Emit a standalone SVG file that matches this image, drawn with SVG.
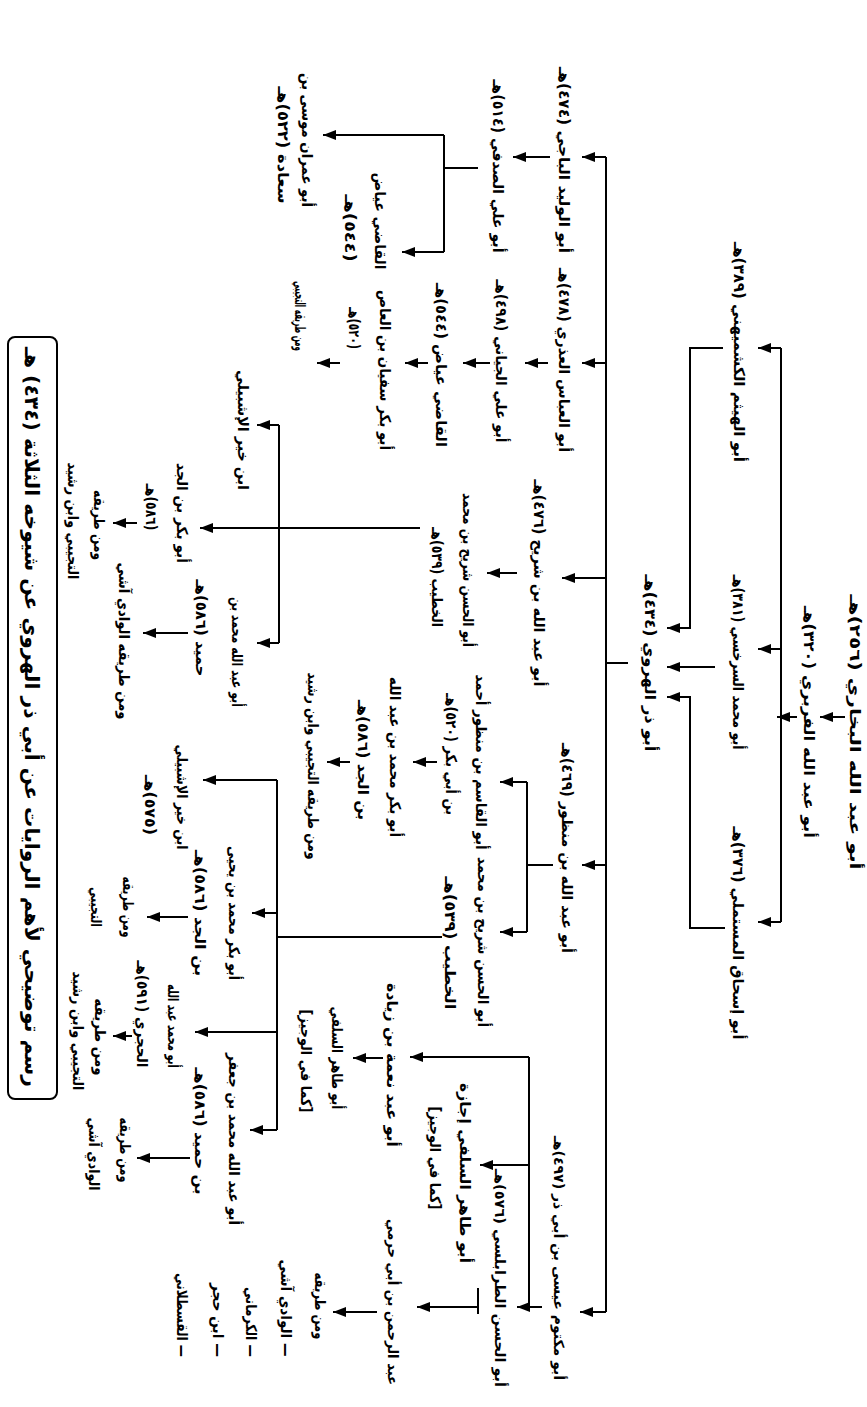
<svg xmlns="http://www.w3.org/2000/svg" width="867" height="1407" viewBox="0 0 867 1407">
<style>
.t{font-family:"DejaVu Sans",sans-serif;font-weight:bold;font-size:15px;fill:#000;direction:rtl;text-anchor:middle;dominant-baseline:central}
.tt{font-size:20px}
.s{font-size:14px}
.c line,.c polyline{stroke:#000;stroke-width:2;fill:none}
.a{marker-end:url(#ah)}
</style>
<defs>
<marker id="ah" markerWidth="13" markerHeight="10" refX="13" refY="5" orient="auto" markerUnits="userSpaceOnUse"><path d="M0,0 L13,5 L0,10 z" fill="#000"/></marker>
</defs>
<rect width="867" height="1407" fill="#fff"/>
<g id="title">
<rect x="8" y="337" width="49" height="762" rx="7" fill="none" stroke="#000" stroke-width="2"/>
<text class="t tt" transform="translate(32 717) rotate(90)" textLength="740" lengthAdjust="spacingAndGlyphs">رسم توضيحي لأهم الروايات عن أبي ذر الهروي عن شيوخه الثلاثة (٤٣٤) هـ</text>
</g>
<g class="c" id="connectors">
<line class="a" x1="845" y1="717" x2="820" y2="717"/>
<line class="a" x1="797" y1="717" x2="777" y2="717"/>
<line x1="781" y1="348" x2="781" y2="922"/>
<line class="a" x1="781" y1="348" x2="758" y2="348"/>
<line class="a" x1="781" y1="649" x2="758" y2="649"/>
<line class="a" x1="781" y1="922" x2="758" y2="922"/>
<polyline class="a" points="723,348 690,348 690,628 667,628"/>
<line class="a" x1="715" y1="667" x2="667" y2="667"/>
<polyline class="a" points="725,928 690,928 690,697 667,697"/>
<line x1="628" y1="663" x2="606" y2="663"/>
<line x1="606" y1="157" x2="606" y2="1312"/>
<line class="a" x1="606" y1="157" x2="582" y2="157"/>
<line class="a" x1="606" y1="363" x2="582" y2="363"/>
<line class="a" x1="606" y1="578" x2="562" y2="578"/>
<line class="a" x1="606" y1="865" x2="582" y2="865"/>
<line class="a" x1="606" y1="1312" x2="580" y2="1312"/>
<line class="a" x1="550" y1="157" x2="513" y2="157"/>
<line x1="478" y1="168" x2="444" y2="168"/>
<line x1="444" y1="135" x2="444" y2="252"/>
<line class="a" x1="444" y1="135" x2="323" y2="135"/>
<line class="a" x1="444" y1="252" x2="402" y2="252"/>
<line class="a" x1="548" y1="363" x2="525" y2="363"/>
<line class="a" x1="490" y1="363" x2="463" y2="363"/>
<line class="a" x1="428" y1="363" x2="405" y2="363"/>
<line class="a" x1="340" y1="363" x2="317" y2="363"/>
<line class="a" x1="517" y1="573" x2="487" y2="573"/>
<line class="a" x1="420" y1="528" x2="200" y2="528"/>
<line x1="279" y1="425" x2="279" y2="643"/>
<line class="a" x1="279" y1="425" x2="257" y2="425"/>
<line class="a" x1="279" y1="643" x2="257" y2="643"/>
<line class="a" x1="137" y1="523" x2="113" y2="523"/>
<line class="a" x1="188" y1="633" x2="143" y2="633"/>
<line x1="553" y1="865" x2="527" y2="865"/>
<line x1="527" y1="782" x2="527" y2="932"/>
<line class="a" x1="527" y1="782" x2="500" y2="782"/>
<line class="a" x1="527" y1="932" x2="500" y2="932"/>
<line class="a" x1="437" y1="762" x2="413" y2="762"/>
<line class="a" x1="350" y1="762" x2="327" y2="762"/>
<line x1="442" y1="937" x2="277" y2="937"/>
<line x1="277" y1="780" x2="277" y2="1130"/>
<line class="a" x1="277" y1="780" x2="203" y2="780"/>
<line class="a" x1="277" y1="913" x2="252" y2="913"/>
<line class="a" x1="277" y1="1032" x2="195" y2="1032"/>
<line class="a" x1="277" y1="1130" x2="250" y2="1130"/>
<line class="a" x1="188" y1="917" x2="147" y2="917"/>
<line class="a" x1="132" y1="1036" x2="113" y2="1036"/>
<line class="a" x1="190" y1="1158" x2="137" y2="1158"/>
<line class="a" x1="542" y1="1307" x2="517" y2="1307"/>
<line x1="529" y1="1057" x2="529" y2="1307"/>
<line class="a" x1="529" y1="1057" x2="410" y2="1057"/>
<line class="a" x1="529" y1="1165" x2="480" y2="1165"/>
<line class="a" x1="383" y1="1058" x2="353" y2="1058"/>
<line x1="478" y1="1288" x2="478" y2="1314"/>
<line class="a" x1="478" y1="1307" x2="417" y2="1307"/>
<line class="a" x1="377" y1="1312" x2="333" y2="1312"/>
</g>
<g id="bukhari"><text class="t" transform="translate(855 732) rotate(90)" textLength="275" lengthAdjust="spacingAndGlyphs">أبو عبد الله البخاري (٢٥٦)هـ</text></g>
<g id="farabri"><text class="t" transform="translate(809 722) rotate(90)" textLength="232" lengthAdjust="spacingAndGlyphs">أبو عبد الله الفربري (٣٢٠)هـ</text></g>
<g id="kushmihani"><text class="t" transform="translate(739 352) rotate(90)" textLength="220" lengthAdjust="spacingAndGlyphs">أبو الهيثم الكشميهني (٣٨٩)هـ</text></g>
<g id="sarakhsi"><text class="t" transform="translate(738 662) rotate(90)" textLength="175" lengthAdjust="spacingAndGlyphs">أبو محمد السرخسي (٣٨١)هـ</text></g>
<g id="mustamli"><text class="t" transform="translate(738 933) rotate(90)" textLength="213" lengthAdjust="spacingAndGlyphs">أبو إسحاق المستملي (٣٧٦)هـ</text></g>
<g id="abudharr"><text class="t" transform="translate(650 663) rotate(90)" textLength="177" lengthAdjust="spacingAndGlyphs">أبو ذر الهروي (٤٣٤)هـ</text></g>
<g id="baji"><text class="t" transform="translate(564 160) rotate(90)" textLength="186" lengthAdjust="spacingAndGlyphs">أبو الوليد الباجي (٤٧٤)هـ</text></g>
<g id="udhri"><text class="t" transform="translate(564 360) rotate(90)" textLength="184" lengthAdjust="spacingAndGlyphs">أبو العباس العذري (٤٧٨)هـ</text></g>
<g id="ibnshurayh"><text class="t" transform="translate(539 583) rotate(90)" textLength="207" lengthAdjust="spacingAndGlyphs">أبو عبد الله بن شريح (٤٧٦)هـ</text></g>
<g id="ibnmanzur"><text class="t" transform="translate(567 848) rotate(90)" textLength="210" lengthAdjust="spacingAndGlyphs">أبو عبد الله بن منظور (٤٦٩)هـ</text></g>
<g id="abumaktum"><text class="t s" transform="translate(559 1258) rotate(90)" textLength="244" lengthAdjust="spacingAndGlyphs">أبو مكتوم عيسى بن أبي ذر (٤٩٧)هـ</text></g>
<g id="sadafi"><text class="t" transform="translate(498 166) rotate(90)" textLength="173" lengthAdjust="spacingAndGlyphs">أبو علي الصدفي (٥١٤)هـ</text></g>
<g id="ibnsaada">
<text class="t" transform="translate(307 140) rotate(90)" textLength="134" lengthAdjust="spacingAndGlyphs">أبو عمران موسى بن</text>
<text class="t" transform="translate(283 145) rotate(90)" textLength="117" lengthAdjust="spacingAndGlyphs">سعادة (٥٢٢)هـ</text>
</g>
<g id="iyad1">
<text class="t" transform="translate(380 221) rotate(90)" textLength="97" lengthAdjust="spacingAndGlyphs">القاضي عياض</text>
<text class="t" transform="translate(350 228) rotate(90)" textLength="67" lengthAdjust="spacingAndGlyphs">(٥٤٤)هـ</text>
</g>
<g id="jayyani"><text class="t" transform="translate(501 361) rotate(90)" textLength="163" lengthAdjust="spacingAndGlyphs">أبو علي الجياني (٤٩٨)هـ</text></g>
<g id="iyad2"><text class="t" transform="translate(441 365) rotate(90)" textLength="164" lengthAdjust="spacingAndGlyphs">القاضي عياض (٥٤٤)هـ</text></g>
<g id="sufyan">
<text class="t" transform="translate(385 370) rotate(90)" textLength="160" lengthAdjust="spacingAndGlyphs">أبو بكر سفيان بن العاص</text>
<text class="t" transform="translate(354 328) rotate(90)" textLength="42" lengthAdjust="spacingAndGlyphs">(٥٢٠)هـ</text>
</g>
<g id="tujibi1"><text class="t" transform="translate(300 316) rotate(90)" textLength="70" lengthAdjust="spacingAndGlyphs">ومن طريقه التجيبي</text></g>
<g id="khatib1">
<text class="t" transform="translate(468 570) rotate(90)" textLength="154" lengthAdjust="spacingAndGlyphs">أبو الحسن شريح بن محمد</text>
<text class="t" transform="translate(437 577) rotate(90)" textLength="100" lengthAdjust="spacingAndGlyphs">الخطيب (٥٣٩)هـ</text>
</g>
<g id="ibnkhayr1"><text class="t" transform="translate(243 430) rotate(90)" textLength="120" lengthAdjust="spacingAndGlyphs">ابن خير الإشبيلي</text></g>
<g id="ibnjadd1">
<text class="t" transform="translate(182 513) rotate(90)" textLength="100" lengthAdjust="spacingAndGlyphs">أبو بكر بن الجد</text>
<text class="t" transform="translate(151 507) rotate(90)" textLength="47" lengthAdjust="spacingAndGlyphs">(٥٨٦)هـ</text>
</g>
<g id="tujibi2">
<text class="t" transform="translate(99 525) rotate(90)" textLength="70" lengthAdjust="spacingAndGlyphs">ومن طريقه</text>
<text class="t" transform="translate(73 521) rotate(90)" textLength="117" lengthAdjust="spacingAndGlyphs">التجيبي وابن رشيد</text>
</g>
<g id="ibnhumayd1">
<text class="t" transform="translate(237 652) rotate(90)" textLength="110" lengthAdjust="spacingAndGlyphs">أبو عبد الله محمد بن</text>
<text class="t" transform="translate(201 628) rotate(90)" textLength="97" lengthAdjust="spacingAndGlyphs">حميد (٥٨٦)هـ</text>
</g>
<g id="wadiashi1"><text class="t" transform="translate(124 641) rotate(90)" textLength="157" lengthAdjust="spacingAndGlyphs">ومن طريقه الوادي آشي</text></g>
<g id="ibnmanzur2">
<text class="t" transform="translate(481 762) rotate(90)" textLength="175" lengthAdjust="spacingAndGlyphs">أبو القاسم بن منظور أحمد</text>
<text class="t" transform="translate(451 754) rotate(90)" textLength="122" lengthAdjust="spacingAndGlyphs">بن أبي بكر (٥٢٠)هـ</text>
</g>
<g id="ibnjadd2">
<text class="t" transform="translate(395 757) rotate(90)" textLength="160" lengthAdjust="spacingAndGlyphs">أبو بكر محمد بن عبد الله</text>
<text class="t" transform="translate(363 760) rotate(90)" textLength="120" lengthAdjust="spacingAndGlyphs">بن الجد (٥٨٦)هـ</text>
</g>
<g id="tujibi3"><text class="t" transform="translate(313 766) rotate(90)" textLength="187" lengthAdjust="spacingAndGlyphs">ومن طريقه التجيبي وابن رشيد</text></g>
<g id="khatib2">
<text class="t" transform="translate(483 942) rotate(90)" textLength="170" lengthAdjust="spacingAndGlyphs">أبو الحسن شريح بن محمد</text>
<text class="t" transform="translate(450 943) rotate(90)" textLength="133" lengthAdjust="spacingAndGlyphs">الخطيب (٥٣٩)هـ</text>
</g>
<g id="ibnkhayr2">
<text class="t" transform="translate(182 797) rotate(90)" textLength="105" lengthAdjust="spacingAndGlyphs">ابن خير الإشبيلي</text>
<text class="t" transform="translate(150 805) rotate(90)" textLength="60" lengthAdjust="spacingAndGlyphs">(٥٧٥)هـ</text>
</g>
<g id="ibnjadd3">
<text class="t" transform="translate(234 913) rotate(90)" textLength="134" lengthAdjust="spacingAndGlyphs">أبو بكر محمد بن يحيى</text>
<text class="t" transform="translate(200 913) rotate(90)" textLength="126" lengthAdjust="spacingAndGlyphs">بن الجد (٥٨٦)هـ</text>
</g>
<g id="tujibi4">
<text class="t" transform="translate(128 907) rotate(90)" textLength="61" lengthAdjust="spacingAndGlyphs">ومن طريقه</text>
<text class="t" transform="translate(96 907) rotate(90)" textLength="40" lengthAdjust="spacingAndGlyphs">التجيبي</text>
</g>
<g id="hajri">
<text class="t" transform="translate(173 1026) rotate(90)" textLength="84" lengthAdjust="spacingAndGlyphs">أبو محمد عبد الله</text>
<text class="t" transform="translate(142 1014) rotate(90)" textLength="107" lengthAdjust="spacingAndGlyphs">الحجري (٥٩١)هـ</text>
</g>
<g id="tujibi5">
<text class="t" transform="translate(100 1037) rotate(90)" textLength="77" lengthAdjust="spacingAndGlyphs">ومن طريقه</text>
<text class="t" transform="translate(78 1031) rotate(90)" textLength="119" lengthAdjust="spacingAndGlyphs">التجيبي وابن رشيد</text>
</g>
<g id="ibnhumayd2">
<text class="t" transform="translate(234 1139) rotate(90)" textLength="172" lengthAdjust="spacingAndGlyphs">أبو عبد الله محمد بن جعفر</text>
<text class="t" transform="translate(200 1131) rotate(90)" textLength="127" lengthAdjust="spacingAndGlyphs">بن حميد (٥٨٦)هـ</text>
</g>
<g id="wadiashi2">
<text class="t" transform="translate(125 1150) rotate(90)" textLength="65" lengthAdjust="spacingAndGlyphs">ومن طريقه</text>
<text class="t" transform="translate(94 1154) rotate(90)" textLength="73" lengthAdjust="spacingAndGlyphs">الوادي آشي</text>
</g>
<g id="nima"><text class="t" transform="translate(392 1065) rotate(90)" textLength="164" lengthAdjust="spacingAndGlyphs">أبو عبد نعمة بن زيادة</text></g>
<g id="silafi1">
<text class="t" transform="translate(337 1058) rotate(90)" textLength="103" lengthAdjust="spacingAndGlyphs">أبو طاهر السلفي</text>
<text class="t" transform="translate(306 1061) rotate(90)" textLength="103" lengthAdjust="spacingAndGlyphs">[كما في الوجيز]</text>
</g>
<g id="silafi2">
<text class="t" transform="translate(465 1173) rotate(90)" textLength="180" lengthAdjust="spacingAndGlyphs">أبو طاهر السلفي إجازة</text>
<text class="t" transform="translate(435 1158) rotate(90)" textLength="103" lengthAdjust="spacingAndGlyphs">[كما في الوجيز]</text>
</g>
<g id="tarabulsi"><text class="t s" transform="translate(500 1278) rotate(90)" textLength="218" lengthAdjust="spacingAndGlyphs">أبو الحسن الطرابلسي (٥٧٦)هـ</text></g>
<g id="ibnabiharami"><text class="t s" transform="translate(393 1302) rotate(90)" textLength="166" lengthAdjust="spacingAndGlyphs">عبد الرحمن بن أبي حرمي</text></g>
<g id="list">
<text class="t" transform="translate(320 1306) rotate(90)" textLength="67" lengthAdjust="spacingAndGlyphs">ومن طريقه</text>
<text class="t" transform="translate(286 1308) rotate(90)" textLength="97" lengthAdjust="spacingAndGlyphs">— الوادي آشي</text>
<text class="t" transform="translate(251 1322) rotate(90)" textLength="70" lengthAdjust="spacingAndGlyphs">— الكرماني</text>
<text class="t" transform="translate(218 1320) rotate(90)" textLength="74" lengthAdjust="spacingAndGlyphs">— ابن حجر</text>
<text class="t" transform="translate(182 1315) rotate(90)" textLength="84" lengthAdjust="spacingAndGlyphs">— القسطلاني</text>
</g>
</svg>
